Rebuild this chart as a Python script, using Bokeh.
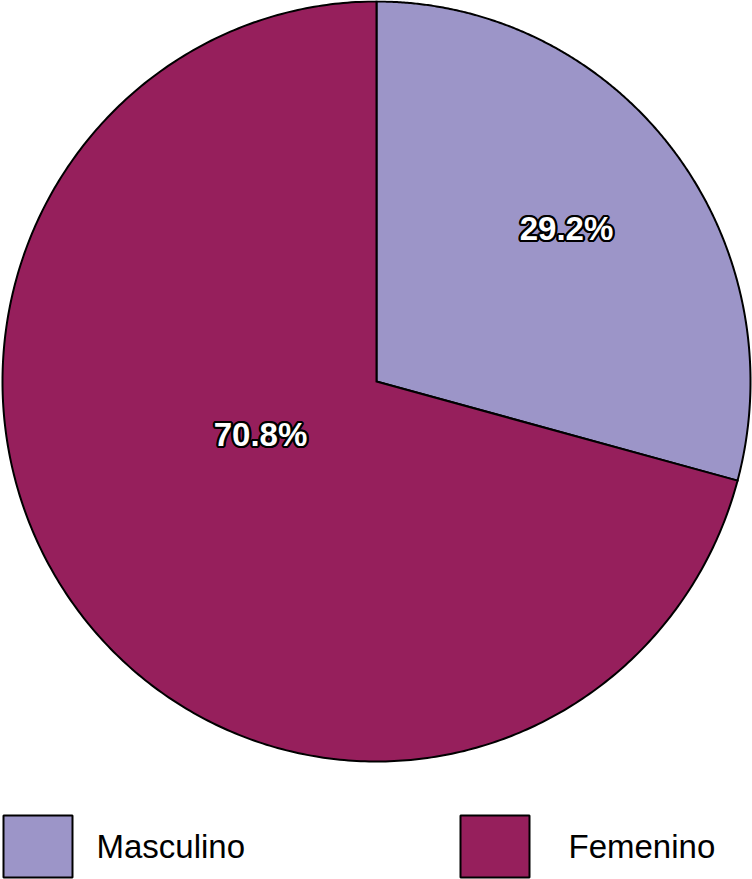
import numpy as np
from bokeh.plotting import figure
from bokeh.models import Range1d, ColumnDataSource
from bokeh.core.properties import value
from bokeh.embed import file_html
from bokeh.resources import INLINE

# ---- data ----
categories = ["Masculino", "Femenino"]
percents = [29.2, 70.8]
colors = ["#9c95c8", "#961f5c"]
label_texts = ["29.2%", "70.8%"]

W, H = 752, 879
p = figure(width=W, height=H, output_backend="svg", toolbar_location=None,
           x_range=Range1d(0, W), y_range=Range1d(H, 0),
           min_border=0, outline_line_color=None)
p.axis.visible = False
p.grid.visible = False
p.background_fill_color = "white"

# pie geometry (screen-like coordinates, y down)
cx, cy, rx, ry = 376, 381, 374, 380
start = 90.0
shares = np.array(percents) / sum(percents)
xs, ys = [], []
a0 = start
for s in shares:
    a1 = a0 - s * 360.0
    th = np.radians(np.linspace(a0, a1, 400))
    px = np.concatenate([[cx], cx + rx * np.cos(th), [cx]])
    py = np.concatenate([[cy], cy - ry * np.sin(th), [cy]])
    xs.append(list(px))
    ys.append(list(py))
    a0 = a1
src = ColumnDataSource(dict(xs=xs, ys=ys, color=colors, cat=categories))
p.patches("xs", "ys", fill_color="color", line_color="black", line_width=2,
          line_join="miter", source=src)

# slice labels: white bold text with black outline
lab_x = [566, 260]
lab_y = [228, 434]
font = value("Liberation Sans")
for ang in np.arange(0, 360, 30):
    dx = 2.3 * np.cos(np.radians(ang))
    dy = 2.3 * np.sin(np.radians(ang))
    p.text(x=lab_x, y=lab_y, text=label_texts, text_color="black",
           x_offset=dx, y_offset=dy,
           text_font=font, text_font_style="bold",
           text_font_size="33px", text_align="center", text_baseline="middle")
p.text(x=lab_x, y=lab_y, text=label_texts, text_color="white",
       text_font=font, text_font_style="bold",
       text_font_size="33px", text_align="center", text_baseline="middle")

# legend
box_x0 = [3, 460]
box_w, box_top, box_bot = 69, 815, 877
p.quad(left=box_x0, right=[b + box_w for b in box_x0], top=[box_top] * 2,
       bottom=[box_bot] * 2, fill_color=colors, line_color="black", line_width=2)
p.text(x=[96, 568], y=[846, 846], text=categories, text_color="black",
       text_font=font, text_font_size="33px",
       text_align="left", text_baseline="middle")

open("out.html", "w").write(file_html(p, INLINE))
